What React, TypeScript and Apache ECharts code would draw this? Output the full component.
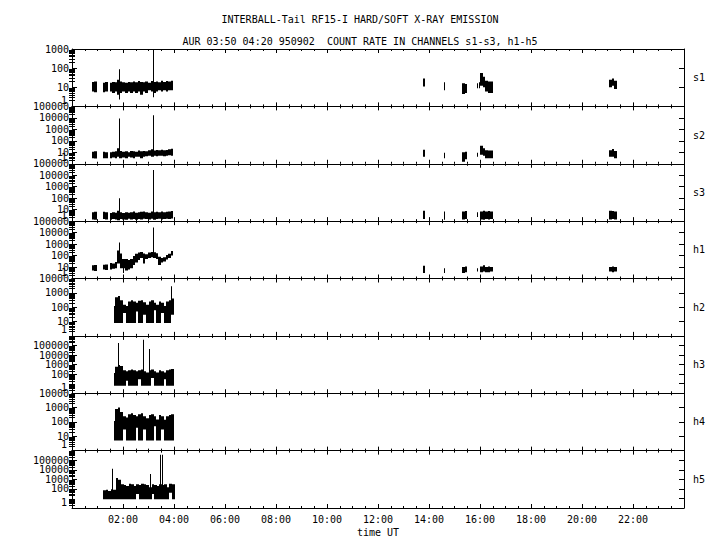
import React, { useEffect, useRef } from 'react';
import * as echarts from 'echarts';

const FONT = '"DejaVu Sans Mono", "Liberation Mono", monospace';
const TITLE = 'INTERBALL-Tail RF15-I HARD/SOFT X-RAY EMISSION';
const SUBTITLE = 'AUR 03:50 04:20 950902  COUNT RATE IN CHANNELS s1-s3, h1-h5';
const X_NAME = 'time UT';

const CHANNELS = ['s1', 's2', 's3', 'h1', 'h2', 'h3', 'h4', 'h5'];
const Y_MAX = [1e3, 1e5, 1e5, 1e5, 1e4, 1e6, 1e4, 1e6];
const X_TICK_LABELS = ['', '02:00', '04:00', '06:00', '08:00', '10:00', '12:00', '14:00', '16:00', '18:00', '20:00', '22:00', ''];
const Y_TICK_LABELS = ['1', '10', '100', '1000', '10000', '100000', '1000000'];

// bin width in hours for envelope segments
const BIN = 0.1;
type Seg = [number, number[], number[]]; // [start hour, low values, high values]
type Spike = [number, number, number]; // [hour, low, high]

const S1_SEGMENTS: Seg[] = [
  [0.78, [6, 5.5], [19, 20]],
  [1.2, [5.5, 6], [17, 19]],
  [1.48,
    [6, 5, 6, 4, 5, 6, 5, 6, 5, 6, 5, 6, 4, 6, 5, 7, 6, 5, 6, 7, 6, 7, 6, 7, 7],
    [17, 19, 18, 25, 20, 18, 17, 19, 18, 20, 18, 21, 19, 18, 20, 17, 21, 19, 20, 18, 22, 19, 21, 20, 22]],
  [13.76, [11], [29]],
  [15.3, [4.5, 5], [16, 15]],
  [16.0, [12, 10, 6, 5, 5], [55, 35, 22, 20, 20]],
  [21.07, [10, 12, 8], [25, 29, 22]],
];
const S1_SPIKES: Spike[] = [[1.84, 2.3, 87], [3.18, 3, 1000], [14.6, 7, 18], [15.9, 9, 16], [15.96, 9, 18]];

const S2_SEGMENTS: Seg[] = [
  [0.78, [3, 2.8], [11, 12]],
  [1.2, [3, 3], [11, 10]],
  [1.48,
    [3, 3.5, 3, 4, 3, 3.5, 3, 4, 3.5, 3, 4, 4, 3, 4, 4.5, 5, 4, 5, 4.5, 5, 5, 4.5, 5, 5.5, 5],
    [10, 11, 12, 22, 13, 11, 12, 10, 13, 12, 11, 14, 12, 13, 12, 15, 18, 14, 16, 15, 17, 15, 16, 18, 20]],
  [13.76, [4], [17]],
  [15.3, [1.5, 2.5], [10, 11]],
  [16.0, [6, 5, 3, 3, 3], [37, 22, 15, 14, 14]],
  [21.07, [4, 4, 3], [15, 19, 13]],
];
const S2_SPIKES: Spike[] = [[1.84, 3, 9000], [3.18, 4, 17000], [14.6, 3, 9], [15.9, 4, 9]];

const S3_SEGMENTS: Seg[] = [
  [0.78, [1.4, 1.3], [6, 6.5]],
  [1.2, [1.5, 1.4], [6.5, 6]],
  [1.48,
    [1.3, 1.5, 1.4, 1.2, 1.5, 1.4, 1.3, 1.6, 1.4, 1.5, 1.3, 1.5, 1.4, 1.6, 1.5, 1.4, 1.6, 1.3, 1.5, 1.6, 1.4, 1.5, 1.6, 1.5, 1.7],
    [5, 6, 5.5, 8, 6, 5, 6, 5.5, 6, 7, 5.5, 6, 6.5, 7, 6, 5.5, 7, 6, 6.5, 6, 7, 6, 6.5, 7, 7.5]],
  [13.76, [1.5], [8]],
  [15.3, [1.4, 1.5], [7, 7.5]],
  [16.0, [1.4, 1.3, 1.5, 1.4, 1.5], [7, 8, 7, 7.5, 7]],
  [21.07, [1.4, 1.5, 1.4], [8, 7.5, 7]],
];
const S3_SPIKES: Spike[] = [[1.84, 1.5, 100], [3.17, 1.5, 28000], [14.6, 1.3, 7], [15.9, 2.3, 6]];

const H1_SEGMENTS: Seg[] = [
  [0.78, [5, 4.5], [14, 15]],
  [1.2, [6, 5.5], [16, 17]],
  [1.48,
    [6, 7, 8, 20, 8, 8, 5, 6, 8, 15, 25, 40, 60, 20, 50, 60, 70, 60, 50, 15, 25, 30, 45, 60, 100],
    [22, 20, 28, 280, 150, 50, 50, 40, 50, 90, 140, 180, 200, 150, 130, 180, 200, 190, 160, 80, 60, 70, 110, 140, 250]],
  [13.76, [3], [13]],
  [15.3, [3, 3.5], [10, 11]],
  [16.0, [3.5, 4, 3.5, 3.5, 4], [11, 14, 10, 11, 10]],
  [21.07, [4, 3.5, 4], [10, 11, 10]],
];
const H1_SPIKES: Spike[] = [[1.84, 100, 1400], [2.0, 3, 20], [3.17, 100, 28000], [14.6, 3, 8], [15.9, 4, 8]];

const H2_SEGMENTS: Seg[] = [
  [1.7,
    [8, 8, 8, 40, 8, 8, 8, 8, 50, 8, 8, 30, 8, 8, 8, 60, 8, 8, 40, 8, 8, 8, 30],
    [500, 600, 300, 150, 120, 250, 300, 250, 200, 280, 300, 220, 150, 250, 300, 200, 150, 250, 200, 120, 250, 300, 400]],
];
const H2_SPIKES: Spike[] = [[1.65, 8, 120], [3.87, 100, 2900]];

const H3_SEGMENTS: Seg[] = [
  [1.7,
    [6, 6, 6, 6, 20, 6, 6, 6, 6, 30, 6, 6, 6, 6, 40, 6, 6, 6, 6, 30, 6, 6, 6],
    [600, 900, 700, 250, 200, 250, 300, 250, 200, 250, 300, 200, 150, 250, 300, 200, 150, 250, 200, 150, 250, 300, 350]],
];
const H3_SPIKES: Spike[] = [[1.65, 6, 130], [1.82, 10, 180000], [2.8, 50, 400000], [3.03, 50, 43000]];

const H4_SEGMENTS: Seg[] = [
  [1.7,
    [5, 5, 5, 30, 5, 5, 5, 5, 40, 5, 5, 30, 5, 5, 5, 50, 5, 5, 30, 5, 5, 5, 5],
    [800, 1000, 500, 250, 200, 350, 400, 300, 250, 350, 400, 250, 180, 300, 350, 250, 150, 300, 250, 140, 250, 300, 350]],
];
const H4_SPIKES: Spike[] = [[1.65, 5, 115]];

const H5_SEGMENTS: Seg[] = [
  [1.22,
    [8, 8, 8, 8, 8, 8, 8, 8, 8, 8, 8, 8, 8, 30, 8, 8, 8, 8, 8, 30, 8, 8, 8, 8, 8, 8, 40, 8],
    [70, 80, 60, 90, 80, 1400, 900, 300, 250, 200, 350, 300, 200, 300, 250, 350, 300, 250, 150, 300, 250, 200, 300, 250, 300, 150, 350, 300]],
];
const H5_SPIKES: Spike[] = [[1.56, 10, 13000], [3.06, 10, 3500], [3.45, 10, 370000], [3.53, 10, 370000]];

const ALL_SEGMENTS = [S1_SEGMENTS, S2_SEGMENTS, S3_SEGMENTS, H1_SEGMENTS, H2_SEGMENTS, H3_SEGMENTS, H4_SEGMENTS, H5_SEGMENTS];
const ALL_SPIKES = [S1_SPIKES, S2_SPIKES, S3_SPIKES, H1_SPIKES, H2_SPIKES, H3_SPIKES, H4_SPIKES, H5_SPIKES];

function buildItems(segs: Seg[], spikes: Spike[]) {
  const items: number[][] = [];
  segs.forEach(([t0, lo, hi]) => {
    lo.forEach((l, i) => items.push([t0 + i * BIN, t0 + (i + 1) * BIN, l, hi[i]]));
  });
  spikes.forEach(([t, l, h]) => items.push([t, t, l, h]));
  return items;
}

function minorValues(max: number) {
  const out: number[] = [];
  for (let d = 1; d < max; d *= 10) {
    for (let m = 2; m <= 9; m++) out.push(m * d);
  }
  return out;
}

function decadeValues(max: number) {
  const out: number[] = [];
  for (let d = 10; d <= max; d *= 10) out.push(d);
  return out;
}

const textBase = { fontFamily: FONT, fontSize: 10, color: '#000' };

function buildOption() {
  const TOP = 49;
  const PH = 57.375;
  const LEFT = 72;
  const PW = 612;
  const n = CHANNELS.length;
  const grid = CHANNELS.map((_, i) => ({ left: LEFT, width: PW, top: TOP + i * PH, height: PH }));
  const xAxis: any[] = [];
  const yAxis: any[] = [];
  const series: any[] = [];
  const black = { color: '#000', width: 1 };
  const labelText = (v: number) => Y_TICK_LABELS[Math.round(Math.log10(v))] ?? String(v);
  CHANNELS.forEach((ch, i) => {
    ['bottom', 'top'].forEach((pos) => {
      const isLabel = pos === 'bottom' && i === n - 1;
      xAxis.push({
        gridIndex: i, type: 'value', min: 0, max: 24, interval: 2, position: pos,
        axisLine: { show: true, onZero: false, lineStyle: black },
        axisTick: { show: true, inside: true, length: 4, lineStyle: black },
        minorTick: { show: true, splitNumber: 4, length: 2, lineStyle: black },
        splitLine: { show: false }, minorSplitLine: { show: false },
        axisLabel: {
          show: isLabel, ...textBase, margin: 6,
          formatter: (v: number) => X_TICK_LABELS[Math.round(v / 2)] ?? '',
        },
        name: isLabel ? X_NAME : '', nameLocation: 'middle', nameGap: 19,
        nameTextStyle: textBase,
      });
    });
    const minors = minorValues(Y_MAX[i]);
    const decades = decadeValues(Y_MAX[i]);
    ['left', 'right'].forEach((pos) => {
      // main axis: line, decade ticks, decade labels (10 .. max)
      yAxis.push({
        gridIndex: i, type: 'log', logBase: 10, min: 1, max: Y_MAX[i], position: pos,
        axisLine: { show: true, onZero: false, lineStyle: black },
        axisTick: { show: true, inside: true, length: 5, lineStyle: black },
        splitLine: { show: false },
        axisLabel: {
          show: pos === 'left', ...textBase, margin: 3,
          customValues: decades, hideOverlap: false,
          formatter: labelText,
        },
        name: pos === 'right' ? ch : '', nameLocation: 'middle', nameRotate: 0, nameGap: 9,
        nameTextStyle: { ...textBase, align: 'left', verticalAlign: 'middle' },
      });
      // helper axis: minor ticks at 2..9 x decade, and the raised "1" label
      yAxis.push({
        gridIndex: i, type: 'log', logBase: 10, min: 1, max: Y_MAX[i], position: pos,
        axisLine: { show: false },
        axisTick: { show: true, inside: true, length: 3, lineStyle: black, customValues: minors },
        axisLabel: {
          show: pos === 'left', ...textBase, margin: 3,
          customValues: [1], hideOverlap: false,
          formatter: (v: number) => '{one|' + labelText(v) + '}',
          rich: { one: { ...textBase, padding: [0, 2, 12, 0] } },
        },
        splitLine: { show: false },
      });
    });
    series.push({
      type: 'custom', coordinateSystem: 'cartesian2d',
      xAxisIndex: 2 * i, yAxisIndex: 4 * i,
      data: buildItems(ALL_SEGMENTS[i], ALL_SPIKES[i]),
      encode: { x: [0, 1], y: [2, 3] },
      silent: true, clip: true,
      renderItem: (_p: any, api: any) => {
        const a = api.coord([api.value(0), api.value(2)]);
        const b = api.coord([api.value(1), api.value(3)]);
        const x0 = Math.round(a[0]);
        const x1 = Math.round(b[0]);
        const w = Math.max(x1 - x0, 1);
        return {
          type: 'rect',
          shape: { x: x0, y: b[1], width: w, height: a[1] - b[1] },
          style: { fill: '#000' },
        };
      },
    });
  });
  return {
    animation: false,
    backgroundColor: '#fff',
    title: [
      { text: TITLE, left: 'center', top: 9, textStyle: { ...textBase, fontWeight: 'normal' } },
      { text: SUBTITLE, left: 'center', top: 31, textStyle: { ...textBase, fontWeight: 'normal' } },
    ],
    grid, xAxis, yAxis, series,
  };
}

export default function App() {
  const ref = useRef<HTMLDivElement>(null);
  useEffect(() => {
    if (!ref.current) return;
    const chart = echarts.init(ref.current, null, { renderer: 'svg' });
    chart.setOption(buildOption() as any);
    return () => chart.dispose();
  }, []);
  return <div ref={ref} style={{ position: 'fixed', left: 0, top: 0, width: 720, height: 550 }} />;
}
